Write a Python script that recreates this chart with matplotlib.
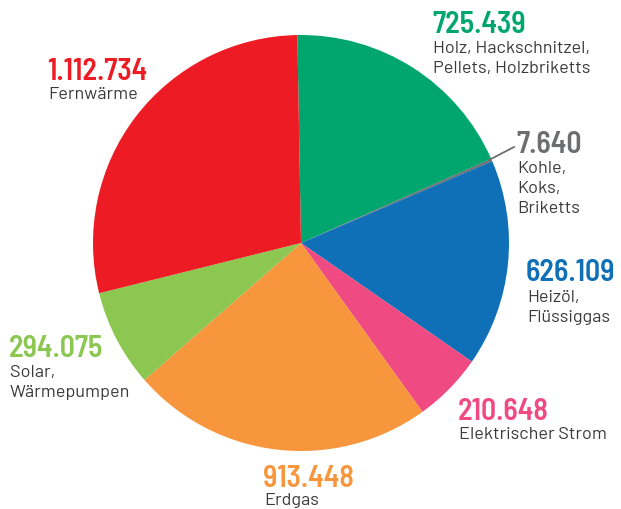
import matplotlib
matplotlib.use("Agg")
import matplotlib.pyplot as plt
from matplotlib.lines import Line2D

categories = ["Holz, Hackschnitzel,\nPellets, Holzbriketts", "Kohle,\nKoks,\nBriketts",
              "Heizöl,\nFlüssiggas", "Elektrischer Strom", "Erdgas",
              "Solar,\nWärmepumpen", "Fernwärme"]
values = [725439, 7640, 626109, 210648, 913448, 294075, 1112734]
value_labels = ["725.439", "7.640", "626.109", "210.648", "913.448", "294.075", "1.112.734"]
colors = ["#00A66E", "#6D6E70", "#0F70B7", "#EF4A81", "#F7963D", "#8BC751", "#ED1C24"]

W, H = 621, 509
fig = plt.figure(figsize=(W / 100, H / 100), dpi=100)
fig.patch.set_facecolor("white")

cx, cy, r = 301, 243, 208
ax = fig.add_axes([(cx - r) / W, (H - cy - r) / H, 2 * r / W, 2 * r / H])
ax.pie(values, colors=colors, startangle=91, counterclock=False, radius=1,
       wedgeprops=dict(linewidth=0))
ax.set_xlim(-1, 1)
ax.set_ylim(-1, 1)
ax.set_aspect("equal")
ax.axis("off")

# label positions (left x, number baseline y, label first baseline y) in pixels
positions = [(433, 33, 53), (517, 153, 173), (527, 281, 302), (459, 420, 439),
             (264, 487, 505), (10, 357, 377), (48, 80, 99)]

NUM_FONT = ["Barlow Semi Condensed", "Roboto Condensed", "Roboto", "DejaVu Sans"]
LAB_FONT = ["Barlow", "Roboto", "DejaVu Sans"]

def fx(x):
    return x / W

def fy(y):
    return 1 - y / H

for (x, yn, yl), num, lab, col in zip(positions, value_labels, categories, colors):
    fig.text(fx(x - 1), fy(yn), num, color=col, fontsize=21.5, fontweight=600,
             family=NUM_FONT, ha="left", va="baseline")
    for i, line in enumerate(lab.split("\n")):
        fig.text(fx(x), fy(yl + i * 20), line, color="#3a3a3a", fontsize=13,
                 family=LAB_FONT, ha="left", va="baseline")

# leader line for the small slice
fig.add_artist(Line2D([fx(489), fx(514)], [fy(160), fy(147)], color="#6D6E70",
                      linewidth=1.3, transform=fig.transFigure))

fig.savefig("out.png", dpi=100)
